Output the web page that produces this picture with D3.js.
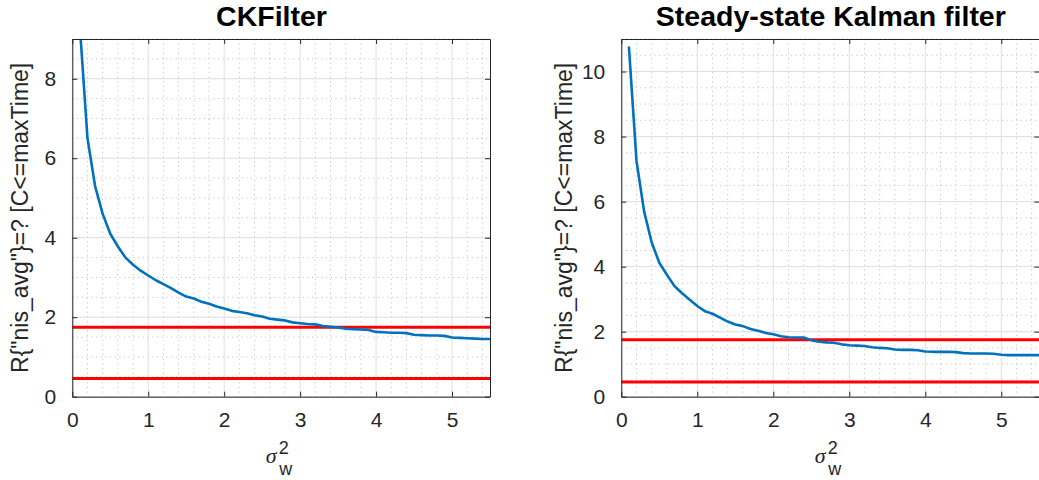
<!DOCTYPE html>
<html>
<head>
<meta charset="utf-8">
<script src="https://cdn.jsdelivr.net/npm/d3@7"></script>
<style>
  html, body { margin: 0; padding: 0; background: #ffffff; }
  svg { display: block; font-family: "Liberation Sans", Arial, Helvetica, sans-serif; }
</style>
</head>
<body>
<svg id="fig" width="1039" height="480"></svg>
<script>
// Process-noise variance sweep (sigma_w^2)
const sigmaW2 = [0.1, 0.2, 0.3, 0.4, 0.5, 0.6, 0.7, 0.8, 0.9, 1.0,
                 1.1, 1.2, 1.3, 1.4, 1.5, 1.6, 1.7, 1.8, 1.9, 2.0,
                 2.1, 2.2, 2.3, 2.4, 2.5, 2.6, 2.7, 2.8, 2.9, 3.0,
                 3.1, 3.2, 3.3, 3.4, 3.5, 3.6, 3.7, 3.8, 3.9, 4.0,
                 4.1, 4.2, 4.3, 4.4, 4.5, 4.6, 4.7, 4.8, 4.9, 5.0,
                 5.1, 5.2, 5.3, 5.4, 5.5];

// Expected average NIS for the CKFilter model
const nisCKFilter = [9.3, 6.5, 5.3, 4.6, 4.1, 3.78, 3.5, 3.32, 3.17, 3.05,
                     2.93, 2.83, 2.73, 2.62, 2.52, 2.47, 2.39, 2.34, 2.27, 2.22,
                     2.16, 2.13, 2.10, 2.05, 2.02, 1.96, 1.94, 1.92, 1.87, 1.85,
                     1.83, 1.82, 1.78, 1.76, 1.74, 1.71, 1.70, 1.69, 1.68, 1.63,
                     1.62, 1.61, 1.61, 1.60, 1.56, 1.55, 1.54, 1.54, 1.53, 1.49,
                     1.48, 1.47, 1.46, 1.45, 1.45];

// Expected average NIS for the steady-state Kalman filter model
const nisSteadyState = [10.77, 7.25, 5.7, 4.74, 4.12, 3.75, 3.4, 3.18, 2.98, 2.79,
                        2.63, 2.55, 2.43, 2.31, 2.22, 2.17, 2.08, 2.03, 1.96, 1.92,
                        1.86, 1.83, 1.82, 1.82, 1.74, 1.69, 1.67, 1.66, 1.61, 1.58,
                        1.57, 1.56, 1.52, 1.50, 1.49, 1.45, 1.44, 1.44, 1.43, 1.39,
                        1.38, 1.38, 1.38, 1.37, 1.34, 1.33, 1.33, 1.33, 1.32, 1.29,
                        1.28, 1.28, 1.28, 1.28, 1.28];

// Chi-square consistency bounds for the averaged NIS
const nisBounds = [0.455, 1.75];

const panelTitles = ["CKFilter", "Steady-state Kalman filter"];
const xTicks = [0, 1, 2, 3, 4, 5];
const yTicksLeft = [0, 2, 4, 6, 8];
const yTicksRight = [0, 2, 4, 6, 8, 10];
const xDomain = [0, 5.5];
const yDomainLeft = [0, 9];
const yDomainRight = [0, 11];
const yLabelText = 'R{"nis_avg"}=? [C<=maxTime]';

const AX = "#262626";
const svg = d3.select("#fig");

const panels = [
  { title: panelTitles[0], values: nisCKFilter, yDomain: yDomainLeft, yTicks: yTicksLeft,
    x0: 72.3, x1: 490, titleX: 271.5, yLabelX: 28 },
  { title: panelTitles[1], values: nisSteadyState, yDomain: yDomainRight, yTicks: yTicksRight,
    x0: 621.3, x1: 1039.3, titleX: 830.8, yLabelX: 572 }
];
const yTop = 39, yBot = 396.7;

panels.forEach((p, idx) => {
  const x = d3.scaleLinear().domain(xDomain).range([p.x0, p.x1]);
  const y = d3.scaleLinear().domain(p.yDomain).range([yBot, yTop]);
  const g = svg.append("g");

  const clipId = "clip" + idx;
  svg.append("defs").append("clipPath").attr("id", clipId)
    .append("rect").attr("x", p.x0).attr("y", yTop)
    .attr("width", p.x1 - p.x0).attr("height", yBot - yTop);

  // minor grid (dotted)
  const xMinor = d3.range(xDomain[0], xDomain[1] + 1e-9, 0.2)
    .filter(v => Math.abs(v - Math.round(v)) > 1e-6);
  const yMinor = d3.range(p.yDomain[0], p.yDomain[1] + 1e-9, 0.5)
    .filter(v => Math.abs(v / 2 - Math.round(v / 2)) > 1e-6);
  g.append("g").selectAll("line").data(xMinor).join("line")
    .attr("x1", d => x(d)).attr("x2", d => x(d))
    .attr("y1", yTop).attr("y2", yBot)
    .attr("stroke", "#b8b8b8").attr("stroke-width", 0.8)
    .attr("stroke-dasharray", "1.2,3.5");
  g.append("g").selectAll("line").data(yMinor).join("line")
    .attr("y1", d => y(d)).attr("y2", d => y(d))
    .attr("x1", p.x0).attr("x2", p.x1)
    .attr("stroke", "#b8b8b8").attr("stroke-width", 0.8)
    .attr("stroke-dasharray", "1.2,3.5");

  // major grid
  g.append("g").selectAll("line").data(xTicks).join("line")
    .attr("x1", d => x(d)).attr("x2", d => x(d))
    .attr("y1", yTop).attr("y2", yBot)
    .attr("stroke", "#dedede").attr("stroke-width", 1);
  g.append("g").selectAll("line").data(p.yTicks).join("line")
    .attr("y1", d => y(d)).attr("y2", d => y(d))
    .attr("x1", p.x0).attr("x2", p.x1)
    .attr("stroke", "#dedede").attr("stroke-width", 1);

  // consistency bounds
  g.append("g").attr("clip-path", `url(#${clipId})`)
    .selectAll("line").data(nisBounds).join("line")
    .attr("x1", x(xDomain[0])).attr("x2", x(xDomain[1]))
    .attr("y1", d => y(d)).attr("y2", d => y(d))
    .attr("stroke", "#ff0000").attr("stroke-width", 3);

  // NIS curve
  const line = d3.line().x((d, i) => x(sigmaW2[i])).y(d => y(d));
  g.append("path").datum(p.values)
    .attr("clip-path", `url(#${clipId})`)
    .attr("d", line)
    .attr("fill", "none")
    .attr("stroke", "#0072bd")
    .attr("stroke-width", 2.6)
    .attr("stroke-linejoin", "round");

  // axes with inward ticks on all four sides
  const tl = 5;
  const bottom = g.append("g").attr("transform", `translate(0,${yBot})`)
    .call(d3.axisBottom(x).tickValues(xTicks).tickFormat(d3.format("d"))
      .tickSizeInner(-tl).tickSizeOuter(0).tickPadding(15));
  const top = g.append("g").attr("transform", `translate(0,${yTop})`)
    .call(d3.axisTop(x).tickValues(xTicks).tickFormat("")
      .tickSizeInner(-tl).tickSizeOuter(0));
  const left = g.append("g").attr("transform", `translate(${p.x0},0)`)
    .call(d3.axisLeft(y).tickValues(p.yTicks).tickFormat(d3.format("d"))
      .tickSizeInner(-tl).tickSizeOuter(0).tickPadding(16));
  const right = g.append("g").attr("transform", `translate(${p.x1},0)`)
    .call(d3.axisRight(y).tickValues(p.yTicks).tickFormat("")
      .tickSizeInner(-tl).tickSizeOuter(0));

  [bottom, top, left, right].forEach(a => {
    a.select(".domain").attr("stroke", AX).attr("stroke-width", 1);
    a.selectAll(".tick line").attr("stroke", AX).attr("stroke-width", 1);
    a.selectAll(".tick text").attr("fill", AX)
      .style("font-family", '"Liberation Sans", Arial, sans-serif')
      .style("font-size", "21px");
  });

  // title
  g.append("text").attr("x", p.titleX).attr("y", 26)
    .attr("text-anchor", "middle")
    .style("font-size", "28.5px").style("font-weight", "bold")
    .attr("fill", "#000").text(p.title);

  // y label
  g.append("text")
    .attr("transform", `translate(${p.yLabelX},${(yTop + yBot) / 2}) rotate(-90)`)
    .attr("text-anchor", "middle")
    .style("font-size", "23px").attr("fill", AX)
    .text(yLabelText);

  // x label: sigma_w^2 with stacked superscript and subscript
  const cx = (p.x0 + p.x1) / 2;
  const xl = g.append("text").attr("fill", AX).style("font-size", "18px");
  xl.append("tspan").attr("x", cx - 15.5).attr("y", 463)
    .style("font-style", "italic").style("font-family", '"Liberation Serif", "Times New Roman", serif')
    .style("font-size", "22px").text("σ");
  xl.append("tspan").attr("x", cx - 2.5).attr("y", 454).text("2");
  xl.append("tspan").attr("x", cx - 2).attr("y", 475).text("w");
});
</script>
</body>
</html>
